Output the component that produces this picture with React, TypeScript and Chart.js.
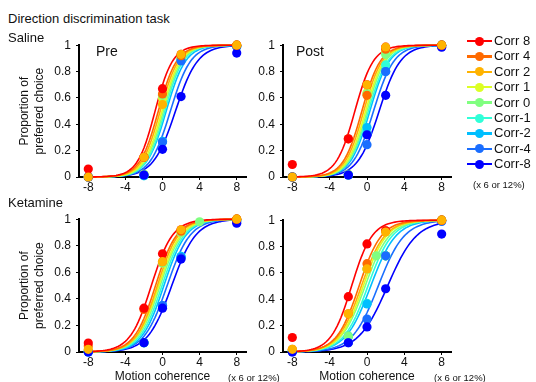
import React, { useEffect, useRef } from 'react';
import { Chart, registerables } from 'chart.js';

Chart.register(...registerables);

const FONT = '"Liberation Sans", Arial, sans-serif';

const SERIES = ['Corr 8', 'Corr 4', 'Corr 2', 'Corr 1', 'Corr 0', 'Corr-1', 'Corr-2', 'Corr-4', 'Corr-8'];
const COLORS = ['#ff0000', '#ff6a00', '#ffb300', '#dcff24', '#80ff80', '#30ffd8', '#00bfff', '#1a6eff', '#0000ff'];
// lower = drawn on top
const DRAW_RANK = [1, 3, 0, 8, 5, 7, 6, 4, 2];

const X_LEVELS = [-8, -2, 0, 1, 2, 4, 8];
const X_TICKS = [-8, -4, 0, 4, 8];
const Y_TICKS = [0, 0.2, 0.4, 0.6, 0.8, 1];

// Observed proportions (rows follow SERIES, columns follow X_LEVELS)
const salinePre = [
  [0.06, 0.15, 0.67, null, 0.93, null, 1.0],
  [0.0, 0.15, 0.63, null, 0.92, null, 1.0],
  [0.0, 0.15, 0.55, null, 0.93, null, 1.0],
  [0.0, 0.02, 0.6, null, 0.9, null, 1.0],
  [0.0, 0.02, 0.62, null, 0.9, null, 1.0],
  [0.0, 0.01, 0.27, null, 0.9, null, 0.99],
  [0.0, 0.01, 0.27, null, 0.89, null, 0.99],
  [0.0, 0.015, 0.265, null, 0.88, null, 0.99],
  [0.0, 0.015, 0.21, null, 0.61, null, 0.94],
];
const salinePost = [
  [0.095, 0.29, 0.7, null, 0.985, null, 1.0],
  [0.0, 0.29, 0.62, null, 0.97, null, 1.0],
  [0.0, null, 0.7, null, 0.985, null, 1.0],
  [0.0, 0.02, 0.64, null, 0.95, null, 1.0],
  [0.0, 0.015, 0.63, null, 0.93, null, 1.0],
  [0.0, 0.015, 0.33, null, 0.85, null, 1.0],
  [0.0, 0.015, 0.375, null, 0.8, null, 1.0],
  [0.0, 0.015, 0.245, null, 0.8, null, 0.99],
  [0.0, 0.015, 0.32, null, 0.62, null, 0.985],
];
const ketaminePre = [
  [0.067, 0.33, 0.74, null, 0.92, null, 1.0],
  [0.045, 0.32, 0.68, null, 0.91, null, 1.0],
  [0.02, null, 0.68, null, 0.92, null, 1.0],
  [0.01, 0.07, 0.67, null, 0.9, null, 1.0],
  [0.01, 0.07, 0.67, null, 0.9, 0.98, 1.0],
  [0.0, 0.07, 0.34, null, 0.72, null, 0.99],
  [0.0, 0.07, 0.35, null, 0.72, null, 0.99],
  [0.0, 0.07, 0.35, null, 0.71, null, 0.98],
  [0.0, 0.07, 0.33, null, 0.7, null, 0.97],
];
const ketaminePost = [
  [0.11, 0.42, 0.82, null, 0.92, null, 1.0],
  [0.02, 0.29, 0.67, null, 0.92, null, 1.0],
  [0.02, 0.29, 0.63, null, 0.91, null, 1.0],
  [0.01, 0.12, 0.63, null, 0.73, null, 1.0],
  [0.01, 0.12, 0.63, 0.73, 0.73, null, 1.0],
  [0.01, 0.12, 0.37, null, 0.73, null, 1.0],
  [0.01, 0.12, 0.365, null, 0.73, null, 0.995],
  [0.0, 0.07, 0.25, null, 0.73, null, 0.99],
  [0.0, 0.07, 0.19, null, 0.48, null, 0.895],
];

// Logistic fit parameters (bias = 50% point, width = spread)
const salinePreBias = [-0.8, -0.45, -0.25, -0.05, 0.1, 0.25, 0.4, 0.85, 1.4];
const salinePreWidth = [0.95, 1.0, 1.0, 1.0, 1.0, 1.0, 1.05, 1.1, 1.2];
const salinePostBias = [-1.3, -0.55, -0.35, -0.15, 0.0, 0.15, 0.3, 0.7, 1.3];
const salinePostWidth = [1.0, 1.0, 1.0, 1.0, 1.0, 1.05, 1.05, 1.1, 1.15];
const ketaminePreBias = [-1.2, -0.75, -0.55, -0.4, -0.25, -0.05, 0.15, 0.5, 1.0];
const ketaminePreWidth = [1.15, 1.15, 1.15, 1.2, 1.2, 1.2, 1.2, 1.25, 1.3];
const ketaminePostBias = [-1.65, -0.85, -0.6, -0.4, -0.2, 0.1, 0.4, 1.2, 2.2];
const ketaminePostWidth = [1.1, 1.2, 1.25, 1.25, 1.3, 1.3, 1.35, 1.4, 1.55];

type PanelProps = {
  left: number; top: number; width: number; height: number;
  yWidth: number; xHeight: number;
  ys: (number | null)[][]; bias: number[]; widthP: number[];
  yTitle: boolean; xTitle: boolean;
};

function Panel(p: PanelProps) {
  const ref = useRef<HTMLCanvasElement>(null);
  useEffect(() => {
    if (!ref.current) return;
    const datasets: any[] = [];
    SERIES.forEach((name, i) => {
      const curve: { x: number; y: number }[] = [];
      for (let k = 0; k <= 80; k++) {
        const x = -8 + k * 0.2;
        curve.push({ x, y: 1 / (1 + Math.exp(-(x - p.bias[i]) / p.widthP[i])) });
      }
      datasets.push({
        label: name + ' fit', data: curve, showLine: true, borderColor: COLORS[i],
        borderWidth: 1.6, pointRadius: 0, order: 20, clip: false,
      });
      const pts = X_LEVELS.map((x, j) => ({ x, y: p.ys[i][j] })).filter((q) => q.y !== null);
      datasets.push({
        label: name, data: pts, showLine: false, pointRadius: 4.6, pointBackgroundColor: COLORS[i],
        backgroundColor: COLORS[i], borderColor: COLORS[i], pointBorderWidth: 0, order: DRAW_RANK[i], clip: false,
      });
    });
    const tickFont = { family: FONT, size: 12 };
    const grid = { display: true, drawOnChartArea: false, drawTicks: true, tickLength: 3, color: '#000', lineWidth: 1 };
    const border = { display: true, color: '#000', width: 2 };
    const chart = new Chart(ref.current, {
      type: 'scatter',
      data: { datasets },
      options: {
        responsive: false, maintainAspectRatio: false, animation: false, events: [],
        layout: { padding: { top: 10, right: 6, bottom: 0, left: 0 } },
        plugins: { legend: { display: false }, tooltip: { enabled: false } },
        scales: {
          x: {
            type: 'linear', min: -9, max: 9,
            afterBuildTicks: (s: any) => { s.ticks = X_TICKS.map((v) => ({ value: v })); },
            afterFit: (s: any) => { s.height = p.xHeight; },
            ticks: { font: tickFont, color: '#111', padding: 0, maxRotation: 0, autoSkip: false, callback: (v: any) => String(v) },
            grid, border,
            title: p.xTitle
              ? { display: true, text: 'Motion coherence', font: { family: FONT, size: 12, lineHeight: 0.85 }, color: '#111', padding: 0 }
              : { display: false },
          },
          y: {
            type: 'linear', min: 0, max: 1,
            afterBuildTicks: (s: any) => { s.ticks = Y_TICKS.map((v) => ({ value: v })); },
            afterFit: (s: any) => { s.width = p.yWidth; },
            ticks: { font: tickFont, color: '#111', padding: 5, autoSkip: false, callback: (v: any) => String(v) },
            grid, border,
            title: p.yTitle
              ? { display: true, text: ['Proportion of', 'preferred choice'], font: { family: FONT, size: 12, lineHeight: 1.25 }, color: '#111', padding: { top: 17.5, bottom: 0 } }
              : { display: false },
          },
        },
      } as any,
    });
    return () => chart.destroy();
  }, []);
  return (
    <canvas ref={ref} width={p.width} height={p.height}
      style={{ position: 'absolute', left: p.left, top: p.top, width: p.width, height: p.height, display: 'block' }} />
  );
}

function Label({ text, left, cy, size, lh = 16 }: { text: string; left: number; cy: number; size: number; lh?: number }) {
  return (
    <div style={{ position: 'absolute', left, top: cy - lh / 2, height: lh, lineHeight: lh + 'px', fontSize: size, fontFamily: FONT, color: '#111', whiteSpace: 'nowrap' }}>
      {text}
    </div>
  );
}

export default function App() {
  return (
    <div style={{ position: 'absolute', left: 0, top: 0, width: 536, height: 382, background: '#fff', overflow: 'hidden' }}>
      <Panel left={0} top={33} width={252} height={164} yWidth={79} xHeight={20} ys={salinePre} bias={salinePreBias} widthP={salinePreWidth} yTitle={true} xTitle={false} />
      <Panel left={250} top={33} width={207} height={164} yWidth={33} xHeight={20} ys={salinePost} bias={salinePostBias} widthP={salinePostWidth} yTitle={false} xTitle={false} />
      <Panel left={0} top={207} width={252} height={175} yWidth={79} xHeight={30} ys={ketaminePre} bias={ketaminePreBias} widthP={ketaminePreWidth} yTitle={true} xTitle={true} />
      <Panel left={250} top={208} width={207} height={174} yWidth={33} xHeight={30} ys={ketaminePost} bias={ketaminePostBias} widthP={ketaminePostWidth} yTitle={false} xTitle={true} />

      <Label text="Direction discrimination task" left={8} cy={19} size={13} />
      <Label text="Saline" left={8} cy={38} size={13} />
      <Label text="Ketamine" left={8} cy={203} size={13} />
      <Label text="Pre" left={96} cy={51} size={14} />
      <Label text="Post" left={296} cy={51} size={14} />

      {SERIES.map((name, i) => {
        const cy = 41 + i * 15.4;
        return (
          <React.Fragment key={name}>
            <div style={{ position: 'absolute', left: 467, top: cy - 1.25, width: 25, height: 2.5, background: COLORS[i] }} />
            <div style={{ position: 'absolute', left: 475, top: cy - 4.5, width: 9, height: 9, borderRadius: '50%', background: COLORS[i] }} />
            <Label text={name} left={494} cy={cy} size={13} />
          </React.Fragment>
        );
      })}
      <Label text="(x 6 or 12%)" left={473} cy={185} size={9.5} lh={12} />
      <Label text="(x 6 or 12%)" left={228} cy={378} size={9.5} lh={12} />
      <Label text="(x 6 or 12%)" left={434} cy={378} size={9.5} lh={12} />
    </div>
  );
}
